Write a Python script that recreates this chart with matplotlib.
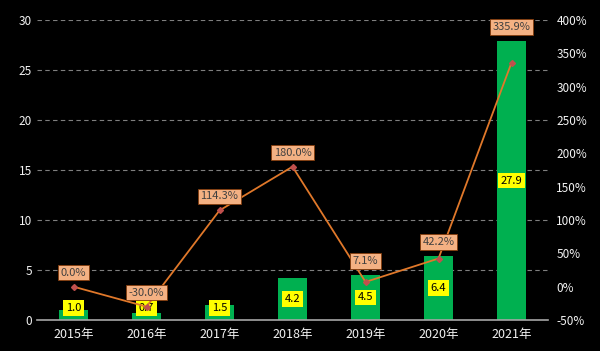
import numpy as np
import matplotlib
matplotlib.use("Agg")
import matplotlib.pyplot as plt

plt.rcParams['font.family'] = ['Noto Sans CJK SC', 'DejaVu Sans']

years = ['2015年', '2016年', '2017年', '2018年', '2019年', '2020年', '2021年']
values = [1.0, 0.7, 1.5, 4.2, 4.5, 6.4, 27.9]
growth = [0.0, -30.0, 114.3, 180.0, 7.1, 42.2, 335.9]

fig = plt.figure(figsize=(6, 3.51), dpi=100, facecolor='black')
ax1 = fig.add_axes([37 / 600, 31 / 351, 511 / 600, 300 / 351])
ax1.set_facecolor('black')
x = np.arange(len(years))

ax1.bar(x, values, width=0.4, color='#00b050', zorder=2)
ax1.set_xlim(-0.5, len(years) - 0.5)
ax1.set_ylim(0, 30)
ax1.set_yticks(range(0, 31, 5))
ax1.set_xticks(x)
ax1.set_xticklabels(years)
ax1.tick_params(axis='both', length=0, colors='#f2f2f2', labelsize=8.5)
ax1.tick_params(axis='x', pad=6, labelsize=9)
for y in range(5, 31, 5):
    ax1.axhline(y, color='#7f7f7f', linestyle=(0, (4, 3)), linewidth=0.8, zorder=1)
for s in ['top', 'left', 'right']:
    ax1.spines[s].set_visible(False)
ax1.spines['bottom'].set_color('#a6a6a6')
ax1.spines['bottom'].set_linewidth(1.2)

# bar value labels
for xi, v in zip(x, values):
    ax1.text(xi, max(v / 2, 1.2), f'{v:.1f}', ha='center', va='center', fontsize=8,
             color='black', zorder=5,
             bbox=dict(boxstyle='square,pad=0.25', facecolor='#ffff00', edgecolor='none'))

ax2 = ax1.twinx()
ax2.set_ylim(-50, 400)
ax2.set_yticks(range(-50, 401, 50))
ax2.yaxis.set_major_formatter(matplotlib.ticker.FuncFormatter(lambda v, p: f'{v:.0f}%'))
ax2.tick_params(axis='y', length=0, colors='#f2f2f2', labelsize=8.5, pad=6)
for s in ax2.spines.values():
    s.set_visible(False)
ax2.plot(x, growth, color='#e0782a', linewidth=1.3, zorder=3)
ax2.plot(x, growth, linestyle='none', marker='D', markersize=3, color='#c0504d', zorder=4)

# growth labels above max(point, bar top)
fig.canvas.draw()
for xi, g, v in zip(x, growth, values):
    yp = ax2.transData.transform((xi, g))[1]
    yb = ax1.transData.transform((xi, v))[1]
    ytop = max(yp, yb) + 14
    ydat = ax2.transData.inverted().transform((0, ytop))[1]
    ax2.text(xi, ydat, f'{g:.1f}%', ha='center', va='center', fontsize=8,
             color='#404040', zorder=6,
             bbox=dict(boxstyle='square,pad=0.25', facecolor='#f4b183', edgecolor='#843c0c',
                       linewidth=0.6))

fig.savefig('out.png', dpi=100, facecolor='black')
